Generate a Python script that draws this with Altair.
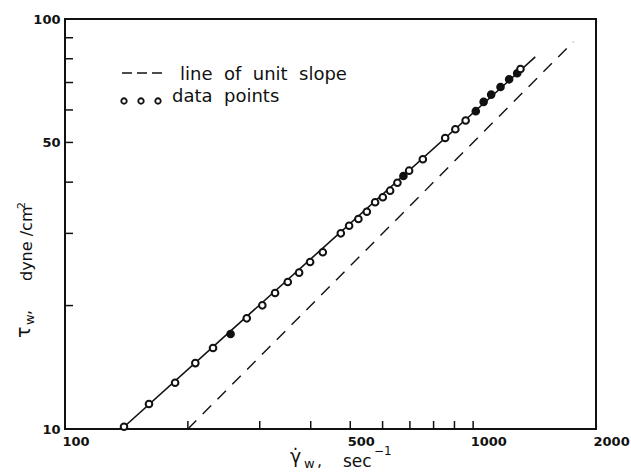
import altair as alt
import pandas as pd

# ---- data ----
gamma_w = [139.5, 160.6, 186.1, 208.6, 230.5, 254.5, 278.8, 304.4, 327.1, 351.4,
           374.6, 398.6, 428.2, 474.0, 496.7, 523.4, 548.9, 575.2, 600.7, 626.0,
           652.3, 674.8, 696.8, 752.9, 854.0, 904.5, 958.6, 1015.0, 1061.0, 1107.0,
           1167.0, 1225.0, 1282.0, 1306.0]
tau_w = [10.13, 11.51, 12.97, 14.48, 15.76, 17.05, 18.62, 20.03, 21.47, 22.83,
         24.06, 25.55, 26.98, 30.01, 31.32, 32.52, 33.88, 35.72, 36.74, 38.13,
         39.87, 41.40, 42.66, 45.48, 51.27, 53.83, 56.55, 59.59, 62.80, 65.40,
         68.25, 71.27, 73.74, 75.50]
filled = [False, False, False, False, False, True, False, False, False, False,
          False, False, False, False, False, False, False, False, False, False,
          False, True, False, False, False, False, False, True, True, True,
          True, True, True, False]

fit_gamma = [137.7, 1420.0]
fit_tau = [10.0, 80.8]

unit_gamma = [200.0, 1760.0]
unit_tau = [10.0, 88.0]

x_ticks = [200, 300, 400, 500, 600, 700, 800, 900, 1000]
x_labels = [100, 500, 1000, 2000]
y_ticks = [20, 30, 40, 50, 60, 70, 80, 90]
y_labels = [10, 50, 100]

FONT = "DejaVu Sans"
INK = "#111111"
NB = "\u00a0"

pts = pd.DataFrame({"gamma": gamma_w, "tau": tau_w, "filled": filled})
fit = pd.DataFrame({"gamma": fit_gamma, "tau": fit_tau})
unit = pd.DataFrame({"gamma": unit_gamma, "tau": unit_tau})
xt = pd.DataFrame({"gamma": x_ticks})
yt = pd.DataFrame({"tau": y_ticks})

xscale = alt.Scale(type="log", domain=[100, 2000], nice=False)
yscale = alt.Scale(type="log", domain=[10, 100], nice=False)

xaxis = alt.Axis(values=x_labels, format="d", title=None, ticks=False, domain=False,
                 grid=False, labelAlign="left", labelFlush=False, labelOffset=-3,
                 labelPadding=6, labelFont=FONT, labelFontSize=13, labelFontWeight="bold",
                 labelColor=INK)
yaxis = alt.Axis(values=y_labels, format="d", title=None, ticks=False, domain=False,
                 grid=False, labelAlign="right", labelBaseline="middle", labelPadding=5,
                 labelFont=FONT, labelFontSize=13, labelFontWeight="bold", labelColor=INK)

X = alt.X("gamma:Q", scale=xscale, axis=xaxis)
Y = alt.Y("tau:Q", scale=yscale, axis=yaxis)

fit_line = alt.Chart(fit).mark_line(color=INK, strokeWidth=1.6).encode(x=X, y=Y)
unit_line = alt.Chart(unit).mark_line(color=INK, strokeWidth=1.4, strokeDash=[12, 9]).encode(x=X, y=Y)
points = alt.Chart(pts).mark_point(shape="circle", size=44, strokeWidth=2, opacity=1,
                                   color=INK, filled=False).encode(
    x=X, y=Y,
    fill=alt.condition("datum.filled", alt.value(INK), alt.value("white")),
)
xtick_rules = alt.Chart(xt).mark_rule(color=INK, strokeWidth=1.5).encode(
    x=X, y=alt.value(410), y2=alt.value(402))
ytick_rules = alt.Chart(yt).mark_rule(color=INK, strokeWidth=1.5).encode(
    y=Y, x=alt.value(0), x2=alt.value(8))

one = pd.DataFrame({"k": [0]})


def txt(s, x, y, size, angle=0, align="left", baseline="alphabetic"):
    kw = dict(text=s, font=FONT, fontSize=size, color=INK, align=align, baseline=baseline)
    if angle:
        kw["angle"] = angle
    return alt.Chart(one).mark_text(**kw).encode(x=alt.value(x), y=alt.value(y))


legend_dashes = [
    alt.Chart(one).mark_rule(color=INK, strokeWidth=1.5).encode(
        x=alt.value(x0), x2=alt.value(x0 + 10), y=alt.value(54))
    for x0 in (57, 72, 87)
]
legend_pts = [
    alt.Chart(one).mark_point(shape="circle", size=30, strokeWidth=1.8, color=INK,
                              fill="white", opacity=1).encode(x=alt.value(px), y=alt.value(82))
    for px in (59, 76, 93)
]

texts = [
    txt(NB.join(["line", "", "of", "", "unit", "", "slope"]), 115, 61, 18),
    txt(NB.join(["data", "", "points"]), 107, 83, 18),
    # x title
    txt("γ\u0307", 225, 444, 19),
    txt("w", 239, 449, 13),
    txt(",", 252, 447, 16),
    txt("sec", 278, 448, 17),
    txt("\u2212\u0031", 309, 436, 12),
    # y title (rotated)
    txt("τ", -35, 319, 19, angle=270),
    txt("w", -31, 306, 13, angle=270),
    txt(",", -35, 296, 16, angle=270),
    txt("dyne" + NB + "/cm", -33, 262, 16, angle=270),
    txt("2", -40, 190, 11, angle=270),
]

chart = alt.layer(
    fit_line, unit_line, xtick_rules, ytick_rules, points, *legend_dashes, *legend_pts, *texts
).properties(
    width=531, height=410,
    autosize="none",
    padding={"left": 65, "top": 19, "right": 35, "bottom": 45},
    background="white",
).configure_view(stroke=INK, strokeWidth=2)

chart.save("out.html", embed_options={"renderer": "svg", "actions": False})
